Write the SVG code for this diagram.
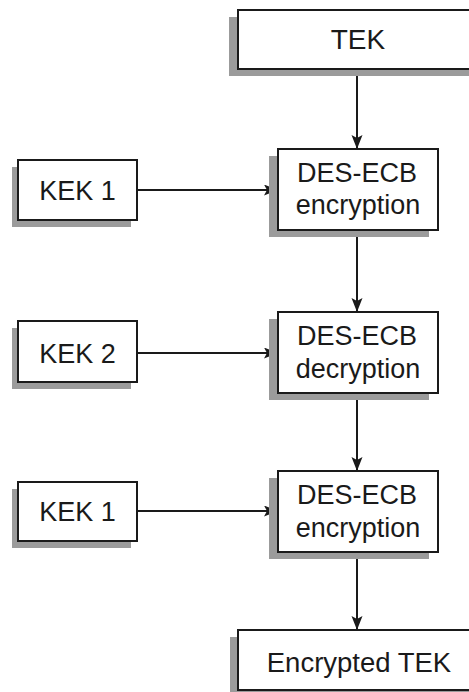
<svg xmlns="http://www.w3.org/2000/svg" width="469" height="692" viewBox="0 0 469 692">
<style>
.shadow{fill:#9b9b9b;stroke:none}
.box{fill:#fff;stroke:#1a1a1a;stroke-width:2}
.lbl{font-family:"Liberation Sans",Arial,Helvetica,sans-serif;fill:#1a1a1a;text-anchor:middle}
.big{font-size:28px}
.mid{font-size:27px}
.conn{stroke:#1a1a1a;stroke-width:2;fill:none;marker-end:url(#arr)}
</style>
<defs>
<marker id="arr" markerUnits="userSpaceOnUse" markerWidth="16" markerHeight="12" refX="14" refY="5.5" orient="auto">
<path d="M0,0 L14,5.5 L0,11 L3,5.5 Z" fill="#1a1a1a"/>
</marker>
</defs>
<rect width="469" height="692" fill="#fff"/>
<g id="connectors">
<line class="conn" x1="357" y1="69" x2="357" y2="149"/>
<line class="conn" x1="357" y1="230" x2="357" y2="312"/>
<line class="conn" x1="357" y1="393" x2="357" y2="471"/>
<line class="conn" x1="357" y1="552" x2="357" y2="630"/>
<line class="conn" x1="137" y1="190" x2="278" y2="190"/>
<line class="conn" x1="137" y1="353" x2="278" y2="353"/>
<line class="conn" x1="137" y1="511" x2="278" y2="511"/>
</g>
<g id="tek">
<rect class="shadow" x="229" y="17" width="240" height="59"/>
<rect class="box" x="238" y="10" width="240" height="59"/>
<text class="lbl big" x="358" y="49">TEK</text>
</g>
<g id="kek1a">
<rect class="shadow" x="12" y="167" width="119" height="60"/>
<rect class="box" x="18" y="160" width="119" height="60"/>
<text class="lbl mid" x="77.5" y="200">KEK 1</text>
</g>
<g id="des1">
<rect class="shadow" x="269" y="156" width="160" height="81"/>
<rect class="box" x="278" y="149" width="160" height="81"/>
<text class="lbl mid" x="357" y="182">DES-ECB</text>
<text class="lbl mid" x="358" y="214">encryption</text>
</g>
<g id="kek2">
<rect class="shadow" x="12" y="328" width="119" height="61"/>
<rect class="box" x="18" y="321" width="119" height="61"/>
<text class="lbl mid" x="77.5" y="363">KEK 2</text>
</g>
<g id="des2">
<rect class="shadow" x="269" y="319" width="160" height="81"/>
<rect class="box" x="278" y="312" width="160" height="81"/>
<text class="lbl mid" x="357" y="345">DES-ECB</text>
<text class="lbl mid" x="358" y="378">decryption</text>
</g>
<g id="kek1b">
<rect class="shadow" x="12" y="489" width="119" height="59"/>
<rect class="box" x="18" y="482" width="119" height="59"/>
<text class="lbl mid" x="77.5" y="521">KEK 1</text>
</g>
<g id="des3">
<rect class="shadow" x="269" y="478" width="160" height="81"/>
<rect class="box" x="278" y="471" width="160" height="81"/>
<text class="lbl mid" x="357" y="504">DES-ECB</text>
<text class="lbl mid" x="358" y="537">encryption</text>
</g>
<g id="encrypted-tek">
<rect class="shadow" x="230" y="637" width="240" height="60"/>
<rect class="box" x="238" y="630" width="240" height="60"/>
<text class="lbl" style="font-size:27.5px" x="359" y="672">Encrypted TEK</text>
</g>
</svg>
